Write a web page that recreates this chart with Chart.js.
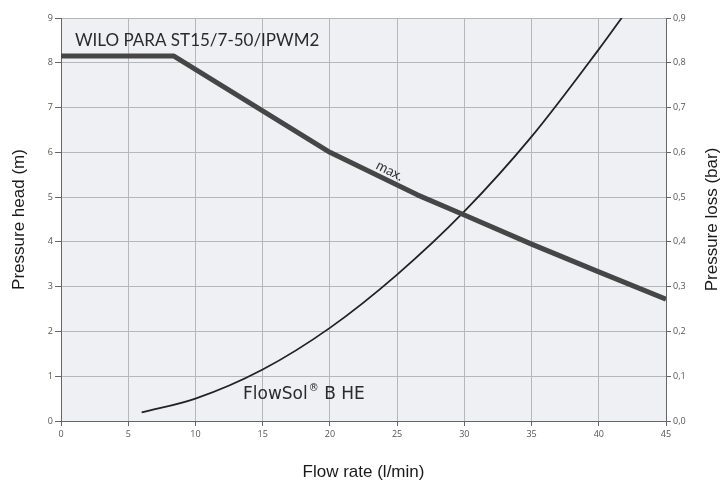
<!DOCTYPE html>
<html>
<head>
<meta charset="utf-8">
<script src="https://cdn.jsdelivr.net/npm/chart.js@4"></script>
<style>
  html, body { margin: 0; padding: 0; background: #fff; }
  #wrap { width: 722px; height: 483px; position: relative; }
</style>
</head>
<body>
<div id="wrap"><canvas id="pumpChart"></canvas></div>
<script>
// =========================
// DATA
// =========================
const pumpFlow = [0, 8.4, 20, 26.5, 30, 35, 40, 45];          // l/min
const pumpHead = [8.15, 8.15, 6.0, 5.05, 4.6, 3.95, 3.33, 2.72]; // m

const lossFlow = [6, 10, 15, 20, 25, 30, 35, 40, 41.7];        // l/min
const lossBar = [0.019, 0.05, 0.115, 0.208, 0.327, 0.468, 0.635, 0.83, 0.9]; // bar

const xTicksStep = 5;
const headMax = 9;
const lossMax = 0.9;

const chartTitle = "WILO PARA ST15/7-50/IPWM2";
const curveLabel = "max.";
const fluidName = "FlowSol";
const fluidMark = "\u00AE";
const fluidType = " B HE";
const xTitle = "Flow rate (l/min)";
const yTitle = "Pressure head (m)";
const y1Title = "Pressure loss (bar)";

// =========================
// PLUGINS
// =========================
const plotBg = {
    id: "plotBg",
    beforeDraw(chart) {
        const a = chart.chartArea;
        const ctx = chart.ctx;
        ctx.save();
        ctx.fillStyle = "#eef0f3";
        ctx.fillRect(a.left, a.top, a.right - a.left, a.bottom - a.top);
        ctx.restore();
    }
};

const texts = {
    id: "texts",
    afterDraw(chart) {
        const ctx = chart.ctx;
        const a = chart.chartArea;
        const x = chart.scales.x;
        const y = chart.scales.y;
        ctx.save();

        // title inside plot
        ctx.fillStyle = "#2a2a2a";
        ctx.font = "17px Lato";
        ctx.textBaseline = "alphabetic";
        ctx.textAlign = "left";
        ctx.fillText(chartTitle, 75, 46);

        // "max." along pump curve
        ctx.save();
        ctx.translate(x.getPixelForValue(24.3), y.getPixelForValue(5.5));
        ctx.rotate(27 * Math.PI / 180);
        ctx.font = "14px Lato";
        ctx.fillStyle = "#333";
        ctx.textAlign = "center";
        ctx.fillText(curveLabel, 0, 0);
        ctx.restore();

        // fluid label with superscript mark
        ctx.fillStyle = "#2a2a2a";
        ctx.textAlign = "left";
        ctx.font = "17px 'DejaVu Sans'";
        let px = 243;
        ctx.fillText(fluidName, px, 399);
        px += ctx.measureText(fluidName).width + 1;
        ctx.font = "10px 'DejaVu Sans'";
        ctx.fillText(fluidMark, px, 391);
        px += ctx.measureText(fluidMark).width;
        ctx.font = "17px 'DejaVu Sans'";
        ctx.fillText(fluidType, px, 399);

        // axis titles
        ctx.font = "17px 'Liberation Sans'";
        ctx.fillStyle = "#1a1a1a";
        ctx.textAlign = "center";
        ctx.textBaseline = "middle";
        ctx.fillText(xTitle, (a.left + a.right) / 2, 472);

        ctx.save();
        ctx.translate(19, (a.top + a.bottom) / 2);
        ctx.rotate(-Math.PI / 2);
        ctx.fillText(yTitle, 0, 0);
        ctx.restore();

        ctx.save();
        ctx.translate(712, (a.top + a.bottom) / 2);
        ctx.rotate(-Math.PI / 2);
        ctx.fillText(y1Title, 0, 0);
        ctx.restore();

        ctx.restore();
    }
};

// =========================
// CHART
// =========================
const tickFont = { family: "'Open Sans'", size: 9 };

new Chart(document.getElementById("pumpChart"), {
    type: "line",
    data: {
        datasets: [
            {
                label: "Pump",
                data: pumpFlow.map((f, i) => ({ x: f, y: pumpHead[i] })),
                yAxisID: "y",
                borderColor: "#464646",
                borderWidth: 5,
                pointRadius: 0,
                tension: 0,
                borderJoinStyle: "round"
            },
            {
                label: "Loss",
                data: lossFlow.map((f, i) => ({ x: f, y: lossBar[i] })),
                yAxisID: "y1",
                borderColor: "#222",
                borderWidth: 1.8,
                pointRadius: 0,
                cubicInterpolationMode: "monotone"
            }
        ]
    },
    options: {
        responsive: true,
        maintainAspectRatio: false,
        animation: false,
        layout: { padding: { top: 18, left: 0, right: 0, bottom: 0 } },
        plugins: { legend: { display: false }, tooltip: { enabled: false } },
        scales: {
            x: {
                type: "linear",
                min: 0,
                max: 45,
                afterFit(s) { s.height = 62; },
                ticks: { stepSize: xTicksStep, font: tickFont, color: "#555", padding: 3, maxRotation: 0 },
                grid: { color: "#b4b7bb", tickLength: 5, tickColor: "#666" },
                border: { color: "#666", width: 1 }
            },
            y: {
                position: "left",
                min: 0,
                max: headMax,
                afterFit(s) { s.width = 61; },
                ticks: { stepSize: 1, font: tickFont, color: "#555", padding: 2 },
                grid: { color: "#b4b7bb", tickLength: 6, tickColor: "#666" },
                border: { color: "#666", width: 1 }
            },
            y1: {
                position: "right",
                min: 0,
                max: lossMax,
                afterFit(s) { s.width = 56; },
                ticks: {
                    stepSize: 0.1,
                    font: tickFont,
                    color: "#555",
                    padding: 2,
                    callback: v => v.toFixed(1).replace(".", ",")
                },
                grid: { drawOnChartArea: false, tickLength: 5, tickColor: "#666" },
                border: { color: "#666", width: 1 }
            }
        }
    },
    plugins: [plotBg, texts]
});
</script>
</body>
</html>
